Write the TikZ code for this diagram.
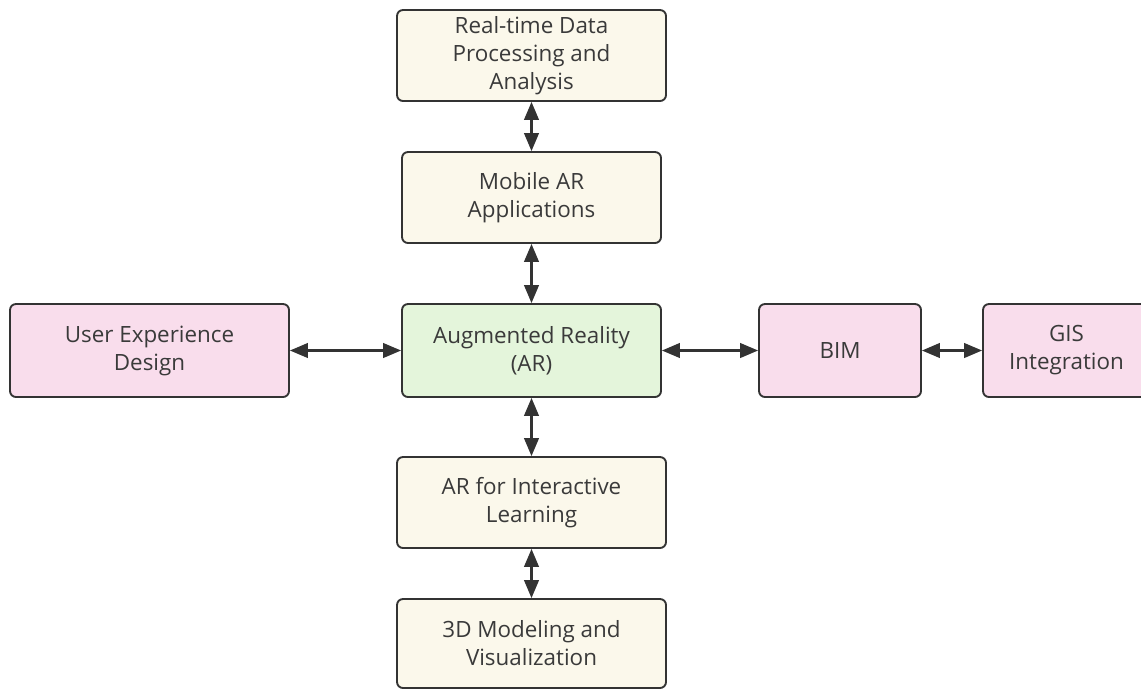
\documentclass[tikz,border=0pt]{standalone}
\usepackage{fontspec}
\setmainfont{Open Sans}
\usetikzlibrary{arrows.meta}
\definecolor{edgec}{HTML}{333333}
\definecolor{txtc}{HTML}{3A3A3A}
\definecolor{creamf}{HTML}{FBF8EB}
\definecolor{pinkf}{HTML}{F9DDEC}
\definecolor{greenf}{HTML}{E4F5DB}
\tikzset{
  box/.style={draw=edgec, line width=1.4pt, rounded corners=4.5pt, align=center,
    text=txtc, inner sep=0pt, font=\fontsize{16.8}{21}\selectfont},
  cream/.style={box, fill=creamf},
  pink/.style={box, fill=pinkf},
  green/.style={box, fill=greenf},
  link/.style={draw=edgec, line width=1.6pt,
    {Triangle[length=13.5pt,width=11pt]}-{Triangle[length=13.5pt,width=11pt]}}
}
\begin{document}
\begin{tikzpicture}[x=0.75pt,y=-0.75pt]
\useasboundingbox (0,0) rectangle (1141,690);
\fill[white] (0,0) rectangle (1141,690);
\clip (0,0) rectangle (1141,690);
\node[cream, minimum width=201.75pt, minimum height=68.25pt] (rt) at (531.5,55.5) {Real-time Data\\Processing and\\Analysis};
\node[cream, minimum width=194.25pt, minimum height=68.25pt] (mob) at (531.5,197.5) {Mobile AR\\Applications};
\node[green, minimum width=194.25pt, minimum height=69.75pt] (ar) at (531.5,350.5) {Augmented Reality\\(AR)};
\node[cream, minimum width=201.75pt, minimum height=68.25pt] (il) at (531.5,502.5) {AR for Interactive\\Learning};
\node[cream, minimum width=201.75pt, minimum height=66.75pt] (md) at (531.5,643.5) {3D Modeling and\\Visualization};
\node[pink, minimum width=209.25pt, minimum height=69.75pt] (ux) at (149.5,350.5) {User Experience\\Design};
\node[pink, minimum width=121.5pt, minimum height=69.75pt] (bim) at (840,350.5) {BIM};
\node[pink, minimum width=125.25pt, minimum height=69.75pt] (gis) at (1066.5,350.5) {GIS\\Integration};
\draw[link] (rt) -- (mob);
\draw[link] (mob) -- (ar);
\draw[link] (ar) -- (il);
\draw[link] (il) -- (md);
\draw[link] (ux) -- (ar);
\draw[link] (ar) -- (bim);
\draw[link] (bim) -- (gis);
\end{tikzpicture}
\end{document}
